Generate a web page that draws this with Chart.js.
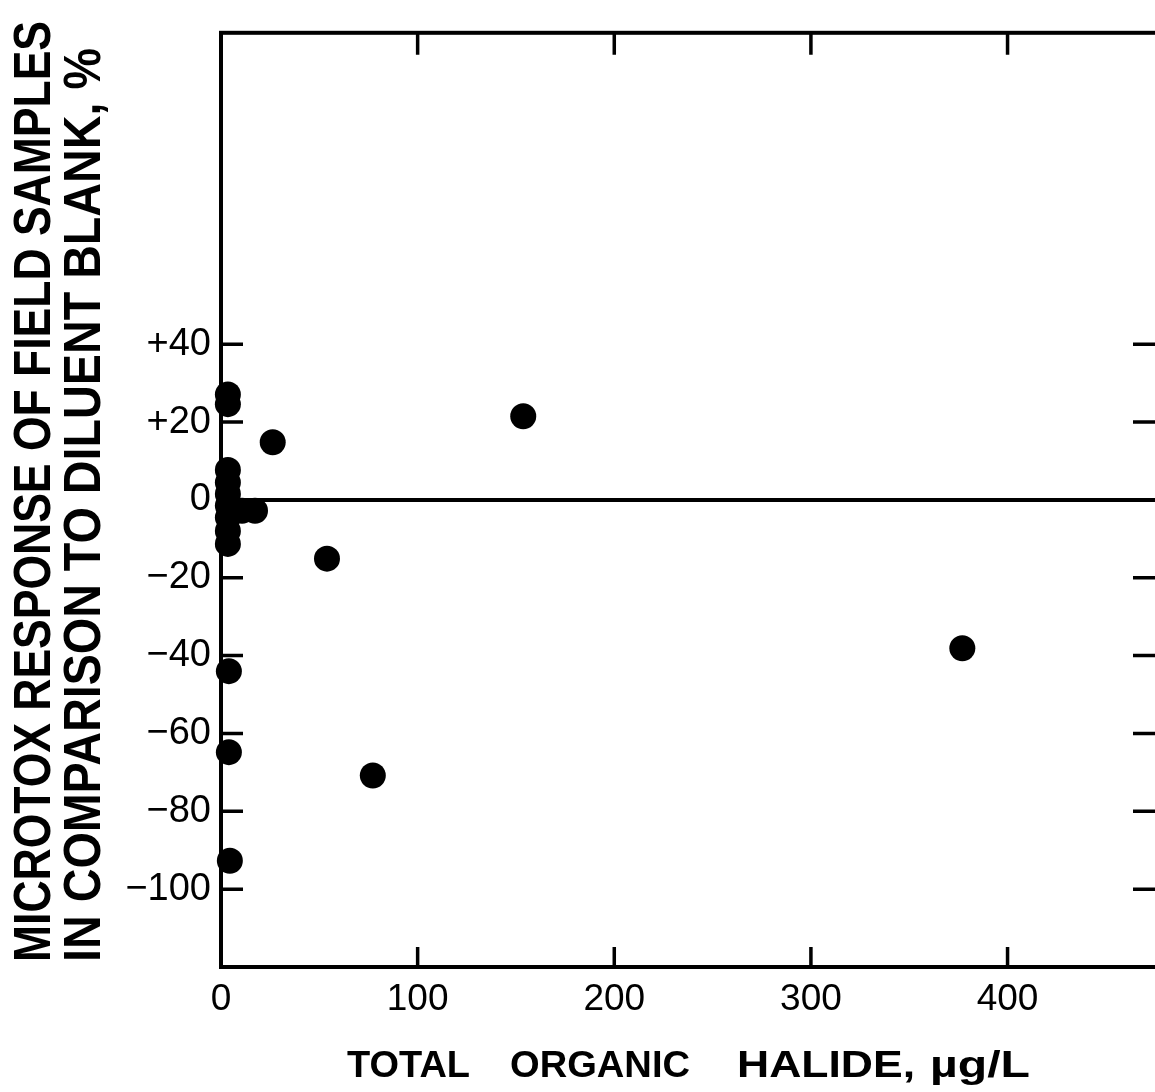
<!DOCTYPE html>
<html>
<head>
<meta charset="utf-8">
<script src="https://cdn.jsdelivr.net/npm/chart.js@4.4.1/dist/chart.umd.min.js"></script>
<style>
html,body{margin:0;padding:0;background:#fff;overflow:hidden}
#wrap{position:relative;width:1180px;height:1092px}
</style>
</head>
<body>
<div id="wrap"><canvas id="c"></canvas></div>
<script>
// ---- data ----
const tocValues = [3.5, 3.5, 26.3, 153.7, 3.5, 3.5, 3.5, 3.5, 3.5, 3.5, 3.5, 10.7, 17.3, 53.9, 4.0, 4.0, 77.2, 377.0, 4.5];
const microtoxValues = [27.1, 24.6, 14.8, 21.5, 7.7, 4.5, 1.5, -1.5, -4.5, -8.0, -11.3, -2.8, -2.8, -15.1, -44.0, -64.8, -70.8, -38.1, -92.7];
const zeroLineX = [0, 476];
const zeroLineY = [0, 0];
const xRange = [0, 476];
const yRange = [-120, 120];
const xTickValues = [0, 100, 200, 300, 400];
const yTickValues = [40, 20, 0, -20, -40, -60, -80, -100];
const xMarkValues = [100, 200, 300, 400];
const yMarkValues = [40, 20, 0, -20, -40, -60, -80, -100];
const xTitle = 'TOTAL ORGANIC HALIDE, µg/L';
const yTitleLines = ['MICROTOX RESPONSE OF FIELD SAMPLES', 'IN COMPARISON TO DILUENT BLANK, %'];

const points = tocValues.map((v, i) => ({x: v, y: microtoxValues[i]}));
const zeroLine = zeroLineX.map((v, i) => ({x: v, y: zeroLineY[i]}));

function fmtY(v) {
  if (v > 0) return '+' + v;
  if (v < 0) return '\u2212' + Math.abs(v);
  return '0';
}

const framePlugin = {
  id: 'frame',
  beforeDatasetsDraw(chart) {
    const {ctx, chartArea: a, scales: {x, y}} = chart;
    ctx.save();
    ctx.strokeStyle = '#000';
    ctx.lineWidth = 4;
    ctx.lineJoin = 'miter';
    ctx.strokeRect(a.left, a.top, a.right - a.left, a.bottom - a.top);
    const L = 22;
    ctx.lineWidth = 3.5;
    ctx.beginPath();
    xMarkValues.forEach(v => {
      const px = x.getPixelForValue(v);
      ctx.moveTo(px, a.top); ctx.lineTo(px, a.top + L);
      ctx.moveTo(px, a.bottom); ctx.lineTo(px, a.bottom - L + 2);
    });
    yMarkValues.forEach(v => {
      const py = y.getPixelForValue(v);
      ctx.moveTo(a.left, py); ctx.lineTo(a.left + L, py);
      ctx.moveTo(a.right, py); ctx.lineTo(a.right - L - 2, py);
    });
    ctx.stroke();

    // Y axis title (two rotated, condensed lines)
    ctx.fillStyle = '#000';
    ctx.textAlign = 'left';
    ctx.textBaseline = 'alphabetic';
    ctx.font = 'bold 52px "Liberation Sans", sans-serif';
    const yLines = [
      {text: yTitleLines[0], baseX: 50, startY: 962, endY: 21},
      {text: yTitleLines[1], baseX: 100, startY: 962, endY: 48}
    ];
    yLines.forEach(l => {
      const w = ctx.measureText(l.text).width;
      const s = (l.startY - l.endY) / w;
      ctx.save();
      ctx.translate(l.baseX, l.startY);
      ctx.rotate(-Math.PI / 2);
      ctx.scale(s, 1);
      ctx.fillText(l.text, 0, 0);
      ctx.restore();
    });

    // X axis title, word by word (wide word gaps as in the original lettering)
    ctx.font = 'bold 37px "Liberation Sans", sans-serif';
    const words = xTitle.split(' ');
    const wordStart = [347, 510, 737, 930];
    const wordEnd = [470, 690, 915, 1030];
    words.forEach((wd, i) => {
      const w = ctx.measureText(wd).width;
      const s = (wordEnd[i] - wordStart[i]) / w;
      ctx.save();
      ctx.translate(wordStart[i], 1077);
      ctx.scale(s, 1);
      ctx.fillText(wd, 0, 0);
      ctx.restore();
    });
    ctx.restore();
  }
};

new Chart(document.getElementById('c'), {
  type: 'scatter',
  data: {
    datasets: [
      {
        label: 'zero',
        data: zeroLine,
        showLine: true,
        borderColor: '#000',
        borderWidth: 4,
        pointRadius: 0,
        clip: false,
        order: 2
      },
      {
        label: 'samples',
        data: points,
        backgroundColor: '#000',
        borderColor: '#000',
        borderWidth: 0,
        pointRadius: 13,
        pointHoverRadius: 13,
        clip: false,
        order: 1
      }
    ]
  },
  options: {
    responsive: true,
    maintainAspectRatio: false,
    animation: false,
    events: [],
    layout: {padding: {top: 28, right: 23, bottom: 0, left: 0}},
    plugins: {legend: {display: false}, tooltip: {enabled: false}},
    scales: {
      x: {
        type: 'linear',
        position: 'bottom',
        min: xRange[0],
        max: xRange[1],
        afterBuildTicks: s => { s.ticks = xTickValues.map(v => ({value: v})); },
        afterFit: s => { s.height = 125; },
        grid: {display: false, drawTicks: false},
        border: {display: false},
        ticks: {
          color: '#000',
          padding: 11,
          maxRotation: 0,
          autoSkip: false,
          font: {family: '"Liberation Sans", sans-serif', size: 37},
          callback: v => String(v)
        }
      },
      y: {
        type: 'linear',
        position: 'left',
        min: yRange[0],
        max: yRange[1],
        afterBuildTicks: s => { s.ticks = yTickValues.map(v => ({value: v})); },
        afterFit: s => { s.width = 221; },
        grid: {display: false, drawTicks: false},
        border: {display: false},
        ticks: {
          color: '#000',
          padding: 10,
          autoSkip: false,
          font: {family: '"Liberation Sans", sans-serif', size: 38},
          callback: v => fmtY(v)
        }
      }
    }
  },
  plugins: [framePlugin]
});
</script>
</body>
</html>
